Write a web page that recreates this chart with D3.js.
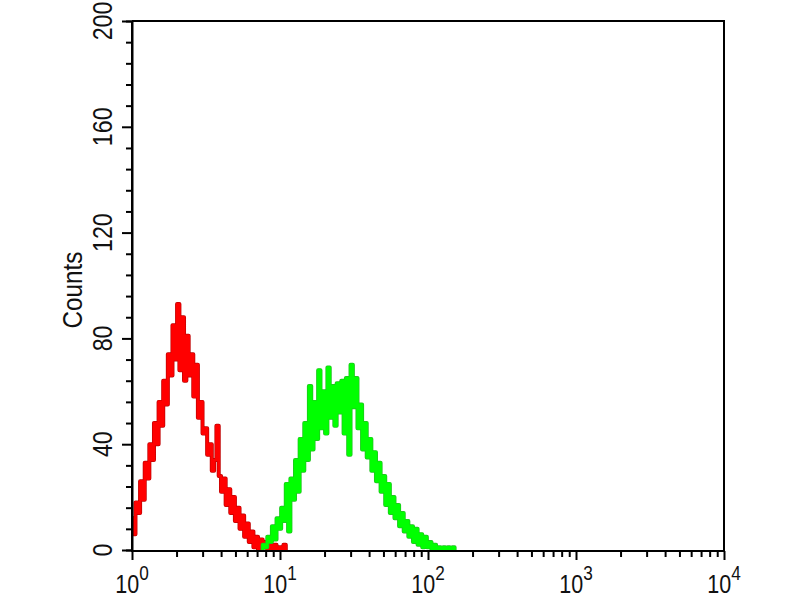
<!DOCTYPE html>
<html>
<head>
<meta charset="utf-8">
<script src="https://cdn.jsdelivr.net/npm/d3@7"></script>
<style>
  body { margin: 0; background: #fff; }
  svg { display: block; }
  .lbl { font-family: "Liberation Sans", Arial, sans-serif; fill: #111; }
</style>
</head>
<body>
<div id="wrapper"></div>
<script>
// histogram channels: 256 channels per decade, counts listed every 4 channels
const channelsPerDecade = 256;
const channelStep = 4;

// red (control) histogram, first channel 0
const redStart = 0;
const redCounts = [12, 6, 18, 14, 26, 19, 33, 27, 40, 34, 48, 40, 56, 47, 64, 55, 74, 66, 85, 72,
  93, 68, 88, 64, 81, 66, 74, 58, 70, 50, 56, 44, 46, 36, 40, 30, 34, 47, 28, 22,
  27, 17, 23, 14, 20, 11, 16, 8, 13, 5, 10, 3, 7, 1, 5, 0, 4, 1, 3, 0,
  2, 0, 2, 0, 1, 0, 2, 0];

// green (sample) histogram, first channel 224
const greenStart = 224;
const greenCounts = [0, 2, 1, 5, 3, 9, 4, 12, 8, 16, 11, 25, 7, 27, 19, 34, 22, 42, 30, 48,
  34, 62, 38, 56, 42, 68, 46, 60, 44, 69, 50, 62, 47, 63, 52, 64, 44, 65, 36, 70,
  54, 65, 46, 55, 38, 48, 35, 42, 30, 37, 26, 33, 22, 28, 17, 25, 14, 20, 12, 17,
  9, 14, 7, 11, 5, 9, 3, 8, 2, 6, 1, 5, 1, 3, 0, 2, 0, 1, 0, 1,
  0, 1, 0, 1, 0];

const yMajor = [0, 40, 80, 120, 160, 200];
const xDecades = [0, 1, 2, 3, 4];

const width = 800, height = 600;
const plot = {left: 132, right: 724, top: 21, bottom: 550};

const svg = d3.select("#wrapper").append("svg")
  .attr("width", width)
  .attr("height", height);

const x = d3.scaleLog().domain([1, 1e4]).range([plot.left, plot.right]);
const y = d3.scaleLinear().domain([0, 200]).range([plot.bottom, plot.top]);

const toPoints = (start, counts) => counts.map((c, i) => ({
  v: Math.pow(10, (start + i * channelStep) / channelsPerDecade),
  c: c
}));

const line = d3.line()
  .x(d => x(d.v))
  .y(d => y(d.c))
  .curve(d3.curveStep);

// dark edge first, bright colour on top (the scan shows darker outlines)
[["#c00000", "#ff0000", redStart, redCounts], ["#20c020", "#00ff00", greenStart, greenCounts]]
  .forEach(([edge, colour, start, counts]) => {
    const pts = toPoints(start, counts);
    svg.append("path").datum(pts)
      .attr("fill", "none").attr("stroke", edge).attr("stroke-width", 4)
      .attr("stroke-linejoin", "round").attr("d", line);
    svg.append("path").datum(pts)
      .attr("fill", "none").attr("stroke", colour).attr("stroke-width", 2.6)
      .attr("stroke-linejoin", "round").attr("d", line);
  });

// frame (top and right)
svg.append("path")
  .attr("d", `M${plot.left},${plot.top}H${plot.right}V${plot.bottom + 1}`)
  .attr("fill", "none")
  .attr("stroke", "#000")
  .attr("stroke-width", 2);

// y axis: minor every 8, major every 40
const yMinor = d3.range(0, 201, 8).filter(v => v % 40 !== 0);
const yAxisMinor = d3.axisLeft(y).tickValues(yMinor).tickSize(6).tickFormat("");
const yAxisMajor = d3.axisLeft(y).tickValues(yMajor).tickSize(10).tickFormat("");

svg.append("g").attr("transform", `translate(${plot.left},0)`).call(yAxisMinor);
const gy = svg.append("g").attr("transform", `translate(${plot.left},0)`).call(yAxisMajor);
svg.selectAll(".domain, .tick line").attr("stroke", "#000").attr("stroke-width", 2);
gy.select(".domain").attr("d", `M${0},${plot.top}V${plot.bottom + 1}`);

svg.append("g").selectAll("text")
  .data(yMajor)
  .join("text")
  .attr("class", "lbl")
  .attr("transform", d => `translate(112,${y(d)}) rotate(-90) scale(0.86,1.05)`)
  .attr("text-anchor", "middle")
  .attr("font-size", 27)
  .text(d => d);

svg.append("text")
  .attr("class", "lbl")
  .attr("transform", `translate(82,290) rotate(-90) scale(0.9,1.05)`)
  .attr("text-anchor", "middle")
  .attr("font-size", 27)
  .text("Counts");

// x axis: log decades with minor 2..9
const xMinor = [];
xDecades.slice(0, -1).forEach(p => {
  for (let k = 2; k <= 9; k++) xMinor.push(k * Math.pow(10, p));
});
const xMajorVals = xDecades.map(p => Math.pow(10, p));

const xAxisMinor = d3.axisBottom(x).tickValues(xMinor).tickSize(6).tickFormat("");
const xAxisMajor = d3.axisBottom(x).tickValues(xMajorVals).tickSize(9).tickFormat("");

const gxm = svg.append("g").attr("transform", `translate(0,${plot.bottom + 1})`).call(xAxisMinor);
const gx = svg.append("g").attr("transform", `translate(0,${plot.bottom + 1})`).call(xAxisMajor);
[gxm, gx].forEach(g => {
  g.selectAll(".domain, .tick line").attr("stroke", "#000").attr("stroke-width", 2);
  g.select(".domain").attr("d", `M${plot.left - 1},0H${plot.right + 1}`);
});

const xl = svg.append("g").selectAll("text")
  .data(xDecades)
  .join("text")
  .attr("class", "lbl")
  .attr("transform", d => `translate(${x(Math.pow(10, d))},593) scale(0.86,1.05)`)
  .attr("text-anchor", "middle")
  .attr("font-size", 25);
xl.append("tspan").text("10");
xl.append("tspan")
  .attr("dy", -12)
  .attr("font-size", 20)
  .text(d => d);
</script>
</body>
</html>
